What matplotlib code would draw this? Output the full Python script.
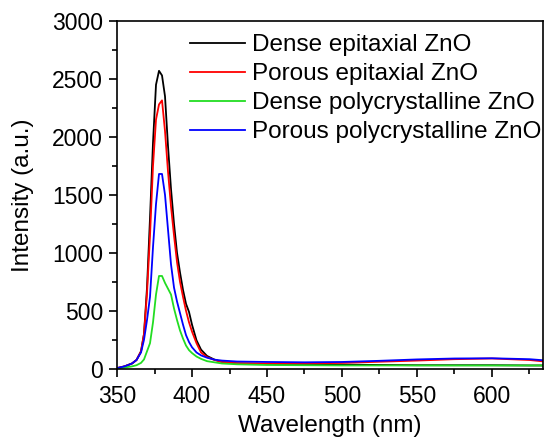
import matplotlib
matplotlib.use("Agg")
import matplotlib.pyplot as plt
from matplotlib.ticker import MultipleLocator

# Okunan değerler (yaklaşık)
dalga_boyu = [350, 355, 360, 363, 366, 368, 370, 372, 374, 376, 378, 380, 382, 384,
              386, 388, 390, 392, 394, 396, 398, 400, 403, 406, 410, 415, 420, 430,
              450, 475, 500, 525, 550, 575, 600, 625, 635]

yogun_epitaksiyel = [5, 20, 45, 75, 150, 300, 700, 1300, 1950, 2450, 2570, 2530, 2350, 1920,
                     1550, 1250, 1000, 830, 680, 560, 490, 380, 245, 165, 110, 78, 58, 45,
                     40, 35, 35, 32, 30, 30, 30, 28, 28]

gozenekli_epitaksiyel = [5, 20, 45, 75, 150, 300, 650, 1150, 1750, 2150, 2280, 2315, 2050, 1700,
                         1400, 1150, 920, 750, 620, 500, 400, 320, 220, 140, 100, 75, 58, 48,
                         45, 45, 50, 60, 70, 82, 88, 75, 62]

yogun_polikristal = [3, 10, 20, 30, 50, 80, 150, 220, 400, 640, 800, 800, 740, 690,
                     640, 520, 420, 330, 260, 200, 160, 135, 105, 85, 65, 55, 45, 38,
                     32, 30, 28, 28, 28, 28, 28, 28, 28]

gozenekli_polikristal = [5, 20, 45, 75, 140, 250, 420, 620, 1050, 1420, 1680, 1680, 1500, 1200,
                         900, 700, 580, 480, 380, 290, 230, 185, 140, 115, 95, 78, 70, 62,
                         58, 55, 58, 68, 80, 88, 90, 82, 72]

etiketler = ["Dense epitaxial ZnO", "Porous epitaxial ZnO",
             "Dense polycrystalline ZnO", "Porous polycrystalline ZnO"]
renkler = ["black", "red", "#22dd22", "blue"]

plt.rcParams['font.family'] = ['Liberation Sans', 'DejaVu Sans']

fig = plt.figure(figsize=(5.45, 4.37), dpi=100)
ax = fig.add_axes([0.2147, 0.1563, 0.7816, 0.7957])

seriler = [yogun_epitaksiyel, gozenekli_epitaksiyel, yogun_polikristal, gozenekli_polikristal]
for veri, renk, etiket in zip(seriler, renkler, etiketler):
    ax.plot(dalga_boyu, veri, color=renk, lw=1.3, label=etiket)

ax.set_xlim(350, 634)
ax.set_ylim(0, 3000)
ax.xaxis.set_major_locator(MultipleLocator(50))
ax.xaxis.set_minor_locator(MultipleLocator(25))
ax.yaxis.set_major_locator(MultipleLocator(500))
ax.yaxis.set_minor_locator(MultipleLocator(250))
ax.tick_params(which='major', direction='out', length=6, width=1.2, labelsize=16.5, pad=4)
ax.tick_params(axis='x', which='major', pad=6)
ax.tick_params(which='minor', direction='out', length=3.5, width=1.2)
for s in ax.spines.values():
    s.set_linewidth(1.2)

ax.set_xlabel('Wavelength (nm)', fontsize=17.5, labelpad=5)
ax.set_ylabel('Intensity (a.u.)', fontsize=17.5, labelpad=13)

ax.legend(loc='upper left', bbox_to_anchor=(0.171, 0.962), frameon=False,
          fontsize=17.5, handlelength=2.25, handletextpad=0.3, labelspacing=0.285,
          borderpad=0, borderaxespad=0)

fig.savefig("out.png", dpi=100)
